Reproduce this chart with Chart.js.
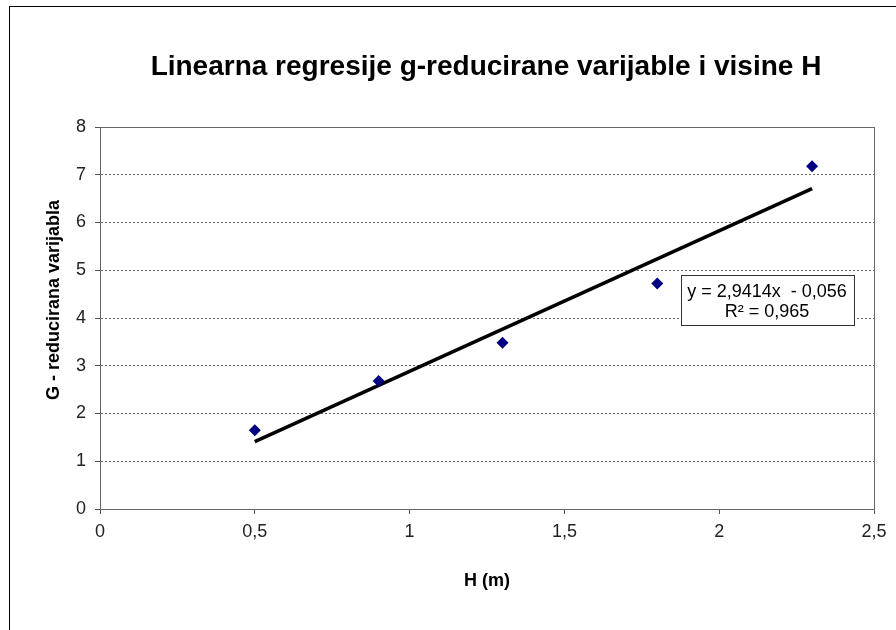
<!DOCTYPE html>
<html>
<head>
<meta charset="utf-8">
<script src="https://cdn.jsdelivr.net/npm/chart.js@4"></script>
<style>
  html, body { margin: 0; padding: 0; background: #fff; }
  #wrap { width: 896px; height: 630px; position: relative; }
</style>
</head>
<body>
<div id="wrap"><canvas id="chartH" width="896" height="630"></canvas></div>
<script>
// podaci
const visina = [0.5, 0.9, 1.3, 1.8, 2.3];
const gReducirana = [1.65, 2.68, 3.48, 4.72, 7.18];
// krajnje tocke linije trenda (ocitano sa slike)
const trendX = [0.5, 2.3];
const trendY = [1.41, 6.71];
const jednadzba = ["y = 2,9414x  - 0,056", "R² = 0,965"];
const naslov = "Linearna regresije g-reducirane varijable i visine H";
const naslovY = "G - reducirana varijabla";

const FONT = "'Liberation Sans', Arial, sans-serif";

// okviri, naslov, jednadzba
const okviri = {
  id: "okviri",
  beforeDraw(chart) {
    const ctx = chart.ctx;
    ctx.save();
    ctx.strokeStyle = "#000";
    ctx.lineWidth = 1;
    ctx.strokeRect(9.5, 6.5, 1000, 1000);

    ctx.fillStyle = "#000";
    ctx.font = "bold 28px " + FONT;
    ctx.textAlign = "center";
    ctx.textBaseline = "middle";
    ctx.fillText(naslov, 486, 67);

    ctx.translate(54, 300);
    ctx.rotate(-Math.PI / 2);
    ctx.font = "bold 18px " + FONT;
    ctx.fillText(naslovY, 0, 0);
    ctx.restore();
  },
  afterDatasetsDraw(chart) {
    const ctx = chart.ctx;
    const a = chart.chartArea;
    ctx.save();
    ctx.strokeStyle = "#666";
    ctx.lineWidth = 1;
    ctx.strokeRect(Math.round(a.left) + 0.5, Math.round(a.top) + 0.5,
      Math.round(a.right - a.left), Math.round(a.bottom - a.top));

    // okvir s jednadzbom
    ctx.fillStyle = "#fff";
    ctx.fillRect(681, 275, 173, 50);
    ctx.strokeStyle = "#333";
    ctx.strokeRect(681.5, 275.5, 173, 50);
    ctx.fillStyle = "#000";
    ctx.font = "18px " + FONT;
    ctx.textAlign = "center";
    ctx.textBaseline = "middle";
    ctx.fillText(jednadzba[0], 767, 292);
    ctx.fillText(jednadzba[1], 767, 312);
    ctx.restore();
  }
};

const graf = new Chart(document.getElementById("chartH"), {
  type: "scatter",
  data: {
    datasets: [
      {
        label: "g-reducirana",
        data: visina.map((x, i) => ({ x: x, y: gReducirana[i] })),
        pointStyle: "rectRot",
        pointRadius: 6,
        pointHoverRadius: 6,
        backgroundColor: "#000080",
        borderColor: "#000080",
        borderWidth: 0,
        order: 1
      },
      {
        label: "trend",
        type: "line",
        data: trendX.map((x, i) => ({ x: x, y: trendY[i] })),
        borderColor: "#000",
        borderWidth: 3.5,
        pointRadius: 0,
        fill: false,
        order: 2
      }
    ]
  },
  options: {
    responsive: false,
    animation: false,
    layout: { padding: { left: 0, right: 22, top: 127, bottom: 0 } },
    plugins: {
      legend: { display: false },
      tooltip: { enabled: false },
      title: { display: false }
    },
    scales: {
      x: {
        type: "linear",
        min: 0,
        max: 2.5,
        afterFit(s) { s.height = 121; },
        ticks: {
          stepSize: 0.5,
          color: "#222",
          font: { family: FONT, size: 18 },
          padding: 7,
          callback: v => String(v).replace(".", ",")
        },
        grid: {
          drawOnChartArea: false,
          tickLength: 5,
          tickColor: "#555"
        },
        border: { color: "#555", width: 1 },
        title: {
          display: true,
          text: "H (m)",
          color: "#000",
          font: { family: FONT, size: 18, weight: "bold" },
          padding: { top: 0, bottom: 38 }
        }
      },
      y: {
        min: 0,
        max: 8,
        afterFit(s) { s.width = 100; },
        ticks: {
          stepSize: 1,
          color: "#222",
          font: { family: FONT, size: 18 },
          padding: 9
        },
        grid: {
          color: "#666",
          lineWidth: 1,
          tickLength: 5,
          tickColor: "#555"
        },
        border: { color: "#555", width: 1, dash: [2, 2] }
      }
    }
  },
  plugins: [okviri]
});
</script>
</body>
</html>
